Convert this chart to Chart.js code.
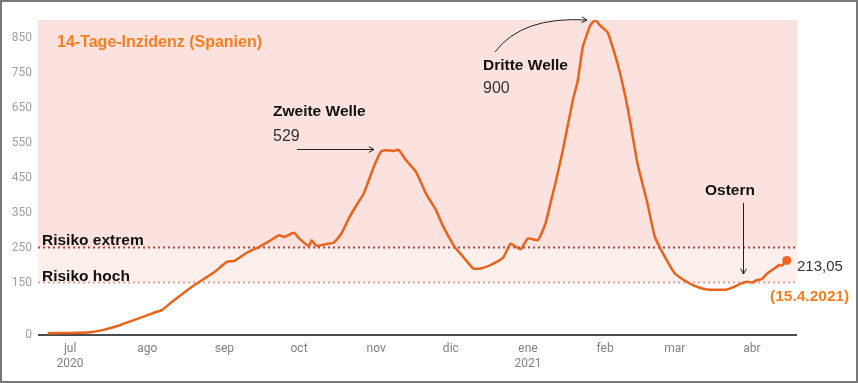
<!DOCTYPE html>
<html>
<head>
<meta charset="utf-8">
<script src="https://cdn.jsdelivr.net/npm/chart.js@4.4.1/dist/chart.umd.min.js"></script>
<style>
html,body{margin:0;padding:0;background:#fff;}
#wrap{width:858px;height:383px;position:relative;}
canvas{display:block;}
</style>
</head>
<body>
<div id="wrap"><canvas id="c" width="858" height="383"></canvas></div>
<script>
// Days counted from 1 July 2020 (day 0)
const days = [-9,0,8,13,20,27,33,37,41,49,58,63,66,71,76,80,84,86,90,92,96,97,99,103,106,109,112,115,118,122,125,127,130,132,135,139,143,147,150,153,155,158,162,165,169,174,177,181,184,188,191,193,195,198,202,204,206,209,211,213,216,220,224,228,232,235,239,243,246,249,253,256,260,264,267,270,272,274,276,278,280,283,285,286,288];
const incidence = [5,6,8,14,28,46,62,72,95,138,180,209,212,235,252,268,285,280,292,276,254,271,255,260,264,290,333,370,404,480,525,528,526,529,499,466,404,357,309,270,247,223,190,190,200,221,261,245,276,271,318,376,433,528,670,727,822,884,900,884,865,775,651,490,376,280,223,176,160,147,135,130,129,130,138,148,152,150,157,160,175,190,200,198,213.05];
const monthTicks = [0,31,62,92,123,153,184,215,243,274];
const monthLabels = [['jul','2020'],'ago','sep','oct','nov','dic',['ene','2021'],'feb','mar','abr'];
const yTicks = [0,150,250,350,450,550,650,750,850];
const riskLevels = [250,150];

const points = days.map((d,i)=>({x:d,y:incidence[i]}));
const lastIdx = points.length-1;

const bgPlugin = {
  id:'bg',
  beforeDatasetsDraw(chart){
    const {ctx, chartArea:a, scales:{y}} = chart;
    const y250 = y.getPixelForValue(riskLevels[0]);
    const y150 = y.getPixelForValue(riskLevels[1]);
    ctx.save();
    ctx.fillStyle = '#fbe2de';
    ctx.fillRect(a.left, a.top, a.right-a.left, y250-a.top);
    ctx.fillStyle = '#fcefec';
    ctx.fillRect(a.left, y250, a.right-a.left, y150-y250);
    ctx.lineWidth = 2;
    ctx.setLineDash([2,3]);
    ctx.strokeStyle = '#b8403c';
    ctx.beginPath(); ctx.moveTo(a.left, y250); ctx.lineTo(a.right, y250); ctx.stroke();
    ctx.strokeStyle = '#eb9c98';
    ctx.beginPath(); ctx.moveTo(a.left, y150); ctx.lineTo(a.right, y150); ctx.stroke();
    ctx.setLineDash([]);
    const y0 = y.getPixelForValue(0);
    ctx.strokeStyle = '#111';
    ctx.lineWidth = 1.5;
    ctx.beginPath(); ctx.moveTo(a.left, y0); ctx.lineTo(a.right, y0); ctx.stroke();
    ctx.restore();
  }
};

function arrowHead(ctx, x, y, ang, s){
  ctx.beginPath();
  ctx.moveTo(x - s*Math.cos(ang - 0.5), y - s*Math.sin(ang - 0.5));
  ctx.lineTo(x, y);
  ctx.lineTo(x - s*Math.cos(ang + 0.5), y - s*Math.sin(ang + 0.5));
  ctx.stroke();
}

const annoPlugin = {
  id:'anno',
  afterDraw(chart){
    const ctx = chart.ctx;
    ctx.save();
    ctx.textBaseline = 'alphabetic';
    ctx.textAlign = 'left';
    const F = '"Liberation Sans", Arial, sans-serif';
    ctx.fillStyle = '#f57f20';
    ctx.font = 'bold 16px ' + F;
    ctx.fillText('14-Tage-Inzidenz (Spanien)', 57, 47);
    ctx.font = 'bold 15.5px ' + F;
    ctx.fillStyle = '#111';
    ctx.fillText('Risiko extrem', 42, 245);
    ctx.fillText('Risiko hoch', 42, 281);
    ctx.fillText('Zweite Welle', 273, 116);
    ctx.fillText('Dritte Welle', 483, 70);
    ctx.fillText('Ostern', 705, 195);
    ctx.fillStyle = '#333';
    ctx.font = '16px ' + F;
    ctx.fillText('529', 273, 141);
    ctx.fillText('900', 483, 93);
    ctx.font = '15px ' + F;
    ctx.fillText('213,05', 797, 271);
    ctx.fillStyle = '#f57f20';
    ctx.font = 'bold 15.5px ' + F;
    ctx.fillText('(15.4.2021)', 770, 301);
    ctx.strokeStyle = '#222';
    ctx.lineWidth = 1;
    ctx.beginPath(); ctx.moveTo(297,149.5); ctx.lineTo(374,149.5); ctx.stroke();
    arrowHead(ctx, 374, 149.5, 0, 6);
    ctx.beginPath(); ctx.moveTo(495,52); ctx.quadraticCurveTo(522,16,587,20); ctx.stroke();
    arrowHead(ctx, 587, 20, 0.05, 6);
    ctx.beginPath(); ctx.moveTo(743.5,203); ctx.lineTo(743.5,274); ctx.stroke();
    arrowHead(ctx, 743.5, 274, Math.PI/2, 6);
    ctx.strokeStyle = '#777';
    ctx.lineWidth = 3;
    ctx.strokeRect(0.5,0.5,857,382);
    ctx.restore();
  }
};

new Chart(document.getElementById('c'), {
  type:'line',
  data:{datasets:[{
    data:points,
    borderColor:'#e8641c',
    backgroundColor:'#f26522',
    borderWidth:2.5,
    tension:0.15,
    pointRadius:(c)=>c.dataIndex===lastIdx?4.5:0,
    pointHoverRadius:0,
    pointBorderWidth:0,
    fill:false
  }]},
  plugins:[bgPlugin, annoPlugin],
  options:{
    responsive:false,
    animation:false,
    events:[],
    layout:{padding:{top:20,right:61,left:0,bottom:0}},
    plugins:{legend:{display:false},tooltip:{enabled:false}},
    scales:{
      x:{
        type:'linear',
        min:-12.9, max:292.1,
        grid:{display:false, drawTicks:false},
        border:{display:false},
        afterBuildTicks(s){ s.ticks = monthTicks.map(v=>({value:v})); },
        afterFit(s){ s.height = 48; },
        ticks:{
          padding:7,
          maxRotation:0,
          autoSkip:false,
          color:'#808080',
          font:{family:'Roboto, "Liberation Sans", sans-serif', size:12},
          callback:(v)=>{ const i = monthTicks.indexOf(v); return i>=0?monthLabels[i]:''; }
        }
      },
      y:{
        min:0, max:900,
        grid:{display:false, drawTicks:false},
        border:{display:false},
        afterBuildTicks(s){ s.ticks = yTicks.map(v=>({value:v})); },
        afterFit(s){ s.width = 38; },
        ticks:{
          padding:6,
          color:'#a0a0a0',
          font:{family:'Roboto, "Liberation Sans", sans-serif', size:12},
          callback:(v)=>String(v)
        }
      }
    }
  }
});
</script>
</body>
</html>
